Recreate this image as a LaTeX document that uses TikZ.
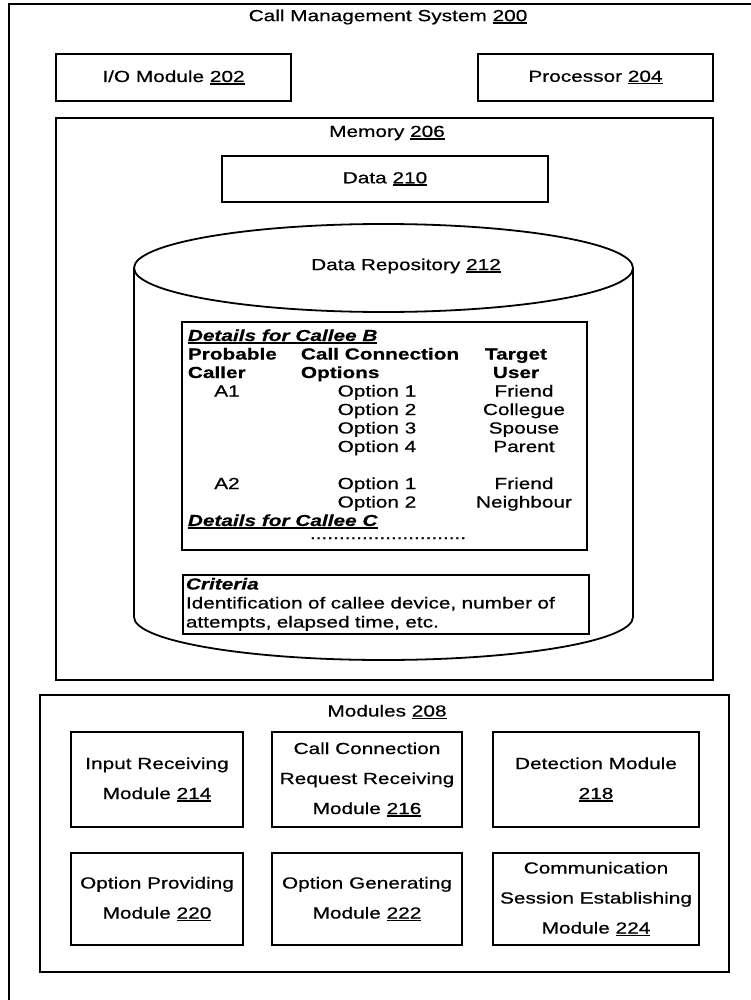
\documentclass[tikz,border=0pt]{standalone}
\usepackage{fontspec}
\setmainfont{Liberation Sans}[FakeStretch=1.3, FakeBold=0.6]
\usepackage{tikz}
\newcommand{\refnum}[1]{\setbox0\hbox{#1}\rlap{\rule[-2.6pt]{\wd0}{1.4pt}}#1}

\begin{document}
\begin{tikzpicture}[x=1pt,y=-1pt,
    line width=1.8pt,
    every node/.style={font=\fontsize{16}{18.5}\selectfont, inner sep=0pt},
    box/.style={draw, line width=1.8pt},
    modbox/.style={box, align=center, font=\fontsize{16}{30}\selectfont},
    cell/.style={anchor=base},
    head/.style={anchor=base west, font=\fontsize{16}{18.5}\selectfont\bfseries}
  ]
  \useasboundingbox (0,0) rectangle (751,1000);
  \clip (0,0) rectangle (751,1000);
  % outer frame, cut at the page edge
  \draw (780,4) -- (9,4) -- (9,1030);
  \node (cms) at (388,17) {Call Management System \refnum{200}};

  \node[box, minimum width=235pt, minimum height=47pt] (io) at (173.5,77.5) {I/O Module \refnum{202}};
  \node[box, minimum width=235pt, minimum height=47pt] (proc) at (595.5,77.5) {Processor \refnum{204}};

  % memory
  \node[box, minimum width=657pt, minimum height=562pt] (mem) at (384.5,399) {};
  \node (memtxt) at (387,133) {Memory \refnum{206}};
  \node[box, minimum width=326pt, minimum height=46pt] (data) at (385,179) {Data \refnum{210}};

  % data repository
  \draw (383.5,268) ellipse [x radius=249.5, y radius=44];
  \draw (134,268) -- (134,617) arc [start angle=180, end angle=0, x radius=249.5, y radius=43] -- (633,268);
  \node (repo) at (406,266) {Data Repository \refnum{212}};

  \node[box, minimum width=405pt, minimum height=228pt] (tbl) at (384.5,436) {};
  \node[anchor=base west] (calleeb) at (187,341) {\refnum{\textbf{\textit{Details for Callee B}}}};
  \node[head] (hcaller) at (187,359.5) {Probable};
  \node[head] (hcaller2) at (187,378) {Caller};
  \node[head] (hopt) at (300,359.5) {Call Connection};
  \node[head] (hopt2) at (300,378) {Options};
  \node[cell, font=\fontsize{16}{18.5}\selectfont\bfseries] (htgt) at (516,359.5) {Target};
  \node[cell, font=\fontsize{16}{18.5}\selectfont\bfseries] (htgt2) at (516,378) {User};
  \node[cell] (aone) at (227,396.5) {A1};
  \foreach \opt/\who [count=\i] in {1/Friend,2/Collegue,3/Spouse,4/Parent} {
    \node[cell] (optone\i) at (377,{378+18.5*\i}) {Option \opt};
    \node[cell] (tgtone\i) at (524,{378+18.5*\i}) {\who};
  }
  \node[cell] (atwo) at (227,489) {A2};
  \node[cell] (opttwo1) at (377,489) {Option 1};
  \node[cell] (tgttwo1) at (524,489) {Friend};
  \node[cell] (opttwo2) at (377,507.5) {Option 2};
  \node[cell] (tgttwo2) at (524,507.5) {Neighbour};
  \node[anchor=base west] (calleec) at (187,526) {\refnum{\textbf{\textit{Details for Callee C}}}};
  \node[cell] (more) at (388,539) {...........................};

  \node[box, anchor=north west, text width=400pt, align=left, inner xsep=3pt, inner ysep=3pt,
    font=\fontsize{16}{19}\selectfont] (crit) at (182,574)
    {\textbf{\textit{Criteria}}\\Identification of callee device, number of\\attempts, elapsed time, etc.};

  % modules
  \node[box, minimum width=689pt, minimum height=277pt] (mods) at (384.5,833.5) {};
  \node (modtxt) at (387,712) {Modules \refnum{208}};
  \node[modbox, minimum width=172pt, minimum height=95pt] (m214) at (157,779.5) {Input Receiving\\Module \refnum{214}};
  \node[modbox, minimum width=190pt, minimum height=95pt] (m216) at (367,779.5) {Call Connection\\Request Receiving\\Module \refnum{216}};
  \node[modbox, minimum width=206pt, minimum height=95pt] (m218) at (596,779.5) {Detection Module\\\refnum{218}};
  \node[modbox, minimum width=172pt, minimum height=92pt] (m220) at (157,899) {Option Providing\\Module \refnum{220}};
  \node[modbox, minimum width=190pt, minimum height=92pt] (m222) at (367,899) {Option Generating\\Module \refnum{222}};
  \node[modbox, minimum width=206pt, minimum height=92pt] (m224) at (596,899) {Communication\\Session Establishing\\Module \refnum{224}};
\end{tikzpicture}
\end{document}
